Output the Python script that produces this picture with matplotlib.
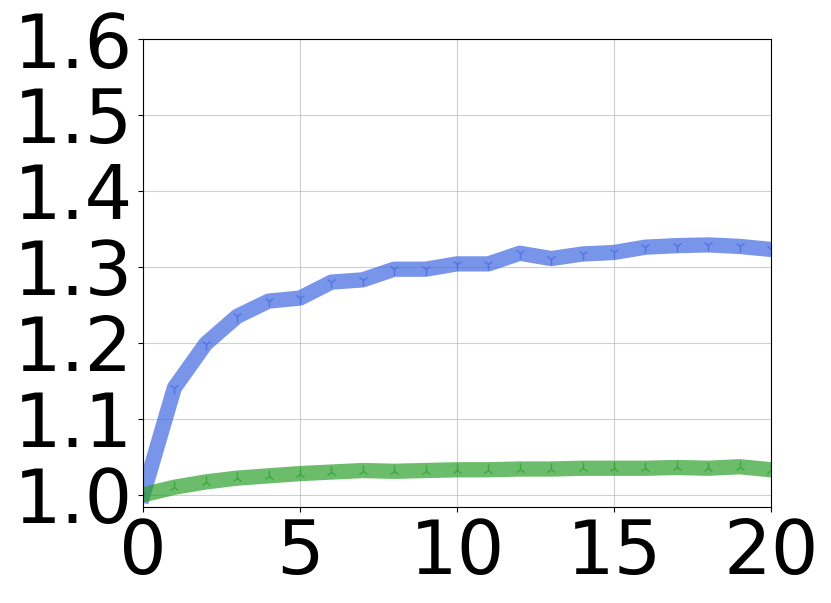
import matplotlib
matplotlib.use("Agg")
import matplotlib.pyplot as plt

# x positions (iterations) and the two curves
steps = list(range(21))
blue_vals = [1.000, 1.141, 1.199, 1.235, 1.255, 1.259, 1.280, 1.283, 1.297, 1.297,
             1.304, 1.304, 1.318, 1.311, 1.317, 1.319, 1.326, 1.328, 1.329, 1.327, 1.323]
green_vals = [1.000, 1.010, 1.017, 1.022, 1.025, 1.028, 1.030, 1.032, 1.031, 1.032,
              1.033, 1.033, 1.034, 1.034, 1.035, 1.035, 1.035, 1.036, 1.035, 1.037, 1.033]

x_ticks = [0, 5, 10, 15, 20]
y_ticks = [1.0, 1.1, 1.2, 1.3, 1.4, 1.5, 1.6]

fig = plt.figure(figsize=(8.31, 6.03), dpi=100)
ax = fig.add_axes([143 / 831, 96 / 603, 628 / 831, 468 / 603])

ax.plot(steps, blue_vals, color="royalblue", alpha=0.7, lw=11, marker="1", ms=8)
ax.plot(steps, green_vals, color="tab:green", alpha=0.7, lw=11, marker="2", ms=8)

ax.set_xlim(0, 20)
ax.set_ylim(0.984, 1.6)
ax.set_xticks(x_ticks)
ax.set_yticks(y_ticks)
ax.set_yticklabels([f"{v:.1f}" for v in y_ticks])
ax.tick_params(labelsize=54)
ax.grid(True, color="#b0b0b0", alpha=0.6, lw=0.8)

fig.savefig("out.png", dpi=100)
